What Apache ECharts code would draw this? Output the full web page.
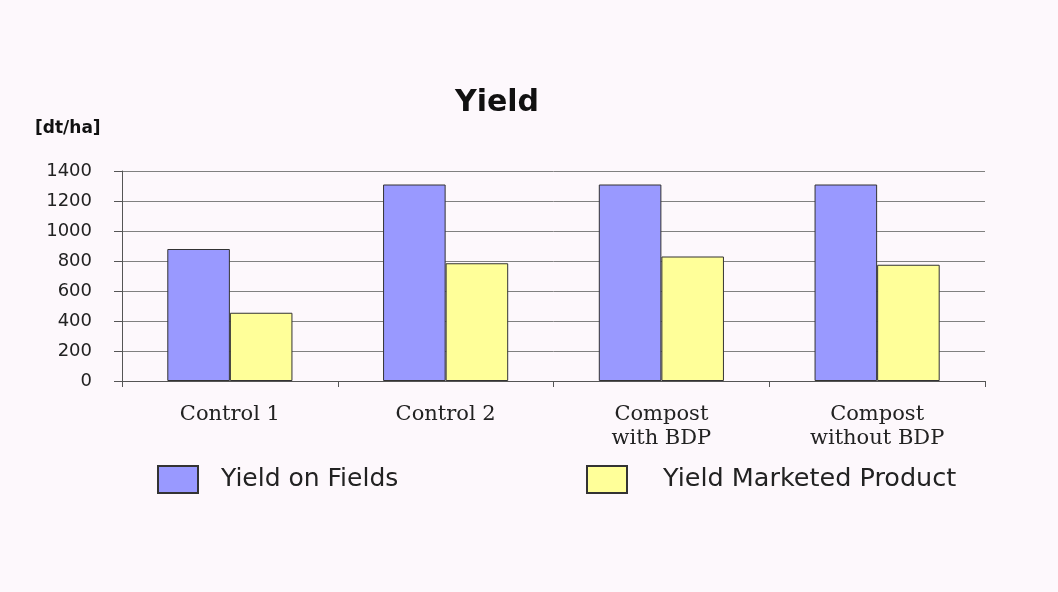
<!DOCTYPE html>
<html>
<head>
<meta charset="utf-8">
<script src="https://cdn.jsdelivr.net/npm/echarts@6/dist/echarts.min.js"></script>
<style>
  html, body { margin: 0; padding: 0; background: #fdf8fc; }
  #chart { width: 1058px; height: 592px; }
</style>
</head>
<body>
<div id="chart"></div>
<script>
// Yield per treatment, in dt/ha
const categories = ['Control 1', 'Control 2', 'Compost\nwith BDP', 'Compost\nwithout BDP'];
const yieldOnFields = [880, 1310, 1310, 1310];
const yieldMarketed = [455, 785, 830, 775];
const seriesNames = ['Yield on Fields', 'Yield Marketed Product'];
const unitLabel = '[dt/ha]';
const titleText = 'Yield';

const sans = 'DejaVu Sans';
const serif = 'DejaVu Serif';

const chart = echarts.init(document.getElementById('chart'), null, { renderer: 'canvas' });

chart.setOption({
  backgroundColor: '#fdf8fc',
  animation: false,
  title: {
    text: titleText,
    left: 497, top: 88,
    textAlign: 'center',
    padding: 0,
    textStyle: { fontFamily: sans, fontWeight: 'bold', fontSize: 30, color: '#111' }
  },
  graphic: [{
    type: 'text',
    left: 35, top: 120,
    style: { text: unitLabel, fontFamily: sans, fontWeight: 'bold', fontSize: 17, fill: '#111' }
  }],
  legend: [
    {
      data: [seriesNames[0]],
      left: 157, top: 465,
      padding: 0,
      itemWidth: 40, itemHeight: 27,
      icon: 'rect',
      textStyle: { fontFamily: sans, fontSize: 25, color: '#222', padding: [0, 0, 0, 18] }
    },
    {
      data: [seriesNames[1]],
      left: 586, top: 465,
      padding: 0,
      itemWidth: 40, itemHeight: 27,
      icon: 'rect',
      textStyle: { fontFamily: sans, fontSize: 25.5, color: '#222', padding: [0, 0, 0, 31] }
    }
  ],
  grid: { left: 122, right: 73, top: 171, bottom: 211, containLabel: false },
  xAxis: {
    type: 'category',
    data: categories,
    axisLine: { show: true, lineStyle: { color: '#555', width: 1 } },
    axisTick: { show: true, alignWithLabel: false, length: 6, lineStyle: { color: '#555' } },
    axisLabel: {
      margin: 22,
      fontFamily: serif, fontSize: 21, color: '#222', lineHeight: 24
    },
    splitLine: { show: false }
  },
  yAxis: {
    type: 'value',
    min: 0, max: 1400, interval: 200,
    axisLine: { show: true, lineStyle: { color: '#555', width: 1 } },
    axisTick: { show: true, length: 8, lineStyle: { color: '#555' } },
    axisLabel: {
      margin: 30, fontFamily: sans, fontSize: 18, color: '#222',
      formatter: (v) => String(v)
    },
    splitLine: { show: true, lineStyle: { color: '#808080', width: 1 } }
  },
  series: [
    {
      name: seriesNames[0],
      type: 'bar',
      data: yieldOnFields,
      barGap: '0%',
      barCategoryGap: '42%',
      itemStyle: { color: '#9999ff', borderColor: '#333', borderWidth: 1 }
    },
    {
      name: seriesNames[1],
      type: 'bar',
      data: yieldMarketed,
      itemStyle: { color: '#ffff99', borderColor: '#333', borderWidth: 1 }
    }
  ]
});
</script>
</body>
</html>
